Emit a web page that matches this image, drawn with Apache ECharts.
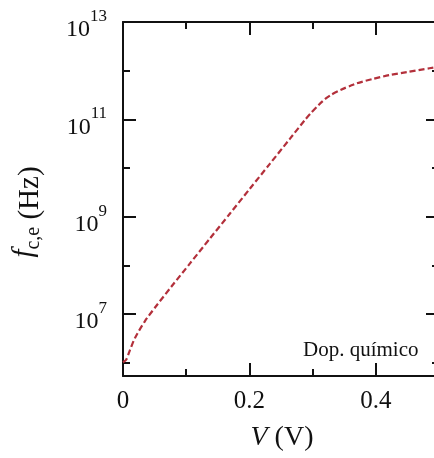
<!DOCTYPE html>
<html>
<head>
<meta charset="utf-8">
<script src="https://cdn.jsdelivr.net/npm/echarts@6/dist/echarts.min.js"></script>
<style>
html, body { margin: 0; padding: 0; background: #fff; }
#chart { width: 434px; height: 458px; }
</style>
</head>
<body>
<div id="chart"></div>
<script>
// voltage (V) and log10 of cutoff frequency f_c,e (Hz)
const voltage = [0, 0.005, 0.011, 0.019, 0.035, 0.051, 0.077, 0.106, 0.138, 0.169, 0.201, 0.232, 0.264, 0.288, 0.296, 0.31, 0.32, 0.33, 0.345, 0.36, 0.37, 0.395, 0.422, 0.449, 0.485, 0.5];
const logFreq = [6.01, 6.06, 6.26, 6.51, 6.86, 7.14, 7.57, 8.04, 8.56, 9.06, 9.58, 10.08, 10.60, 10.99, 11.11, 11.30, 11.42, 11.51, 11.61, 11.69, 11.74, 11.83, 11.91, 11.97, 12.05, 12.08];

const yMajorExps = [7, 9, 11, 13];
const yMinorExps = [6, 8, 10, 12];
const xMin = 0, xMax = 0.5;
const yMin = 5.727, yMax = 13;

const serif = "Liberation Serif";
const ink = "#111";

const points = voltage.map((v, i) => [v, logFreq[i]]);

function powLabel(v)
{
    return "{b|10}{s|" + v + "}";
}

function xAxisDef(grid, pos, interval, len, showLabel)
{
    return {
        type: "value", gridIndex: grid, position: pos, min: xMin, max: xMax, interval: interval,
        axisLine: { show: grid === 0, onZero: false, lineStyle: { color: ink, width: 2 } },
        axisTick: { show: true, inside: true, length: len, lineStyle: { color: ink, width: 2 } },
        axisLabel: {
            show: showLabel, showMaxLabel: false, margin: 13,
            fontFamily: serif, fontSize: 25, color: ink,
            formatter: (v) => String(v)
        },
        splitLine: { show: false }
    };
}

function yAxisDef(grid, pos, ticks, len, showLabel)
{
    return {
        type: "value", gridIndex: grid, position: pos, min: yMin, max: yMax,
        axisLine: { show: grid === 0, onZero: false, lineStyle: { color: ink, width: 2 } },
        axisTick: { show: true, inside: true, length: len, customValues: ticks, lineStyle: { color: ink, width: 2 } },
        axisLabel: {
            show: showLabel, customValues: ticks, margin: 16,
            formatter: powLabel,
            rich: {
                b: { fontFamily: serif, fontSize: 24, color: ink, lineHeight: 26, padding: [10, 0, 0, 0], verticalAlign: "top" },
                s: { fontFamily: serif, fontSize: 17, color: ink, lineHeight: 28, verticalAlign: "top" }
            }
        },
        splitLine: { show: false }
    };
}

const frame = { left: 123, top: 22, width: 316, height: 354, outerBoundsMode: "none", containLabel: false };

const chart = echarts.init(document.getElementById("chart"), null, { renderer: "canvas" });

chart.setOption({
    backgroundColor: "#fff",
    animation: false,
    // grid 0 carries the frame, major ticks and the curve; grid 1 only the minor ticks
    grid: [Object.assign({}, frame), Object.assign({}, frame)],
    xAxis: [
        xAxisDef(0, "bottom", 0.2, 13, true),
        xAxisDef(0, "top", 0.2, 13, false),
        xAxisDef(1, "bottom", 0.1, 7, false),
        xAxisDef(1, "top", 0.1, 7, false)
    ],
    yAxis: [
        yAxisDef(0, "left", yMajorExps, 13, true),
        yAxisDef(0, "right", yMajorExps, 13, false),
        yAxisDef(1, "left", yMinorExps, 7, false),
        yAxisDef(1, "right", yMinorExps, 7, false)
    ],
    series: [{
        type: "line",
        xAxisIndex: 0,
        yAxisIndex: 0,
        data: points,
        smooth: 0.25,
        showSymbol: false,
        lineStyle: { color: "#b3303b", width: 2.2, type: [6, 3] }
    }],
    graphic: [
        {
            type: "text", x: 282, y: 438,
            style: {
                text: "{i|V} (V)",
                fontFamily: serif, fontSize: 28, fill: ink,
                align: "center", verticalAlign: "middle",
                rich: { i: { fontFamily: serif, fontSize: 28, fontStyle: "italic", fill: ink } }
            }
        },
        {
            type: "text", x: 30, y: 212, rotation: Math.PI / 2,
            style: {
                text: "{f|f}{s|c,e} (Hz)",
                fontFamily: serif, fontSize: 29, fill: ink,
                align: "center", verticalAlign: "middle",
                rich: {
                    f: { fontFamily: serif, fontSize: 29, fontStyle: "italic", fill: ink, lineHeight: 30, verticalAlign: "top" },
                    s: { fontFamily: serif, fontSize: 20, fill: ink, lineHeight: 40, padding: [14, 0, 0, 0], verticalAlign: "top" }
                }
            }
        },
        {
            type: "text", x: 303, y: 350,
            style: { text: "Dop. químico", fontFamily: serif, fontSize: 21, fill: ink, verticalAlign: "middle" }
        }
    ]
});
</script>
</body>
</html>
